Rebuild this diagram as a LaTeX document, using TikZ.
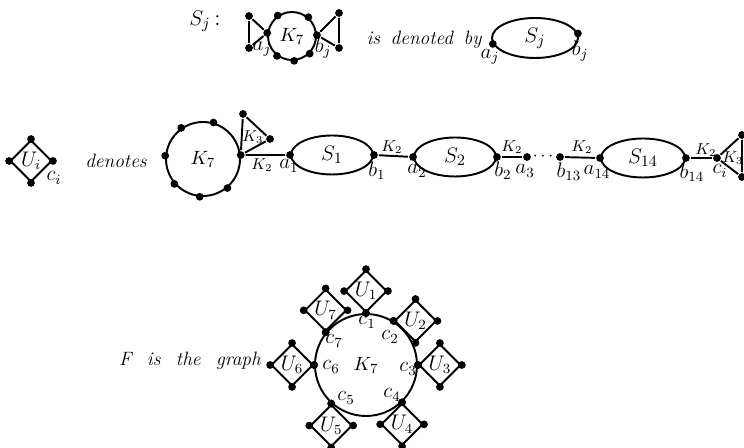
\documentclass[tikz,border=0pt]{standalone}
\usetikzlibrary{positioning, shapes.geometric}

\begin{document}
\begin{tikzpicture}[x=0.02cm, y=-0.02cm, line width=1.1pt,
  vtx/.style={circle, fill, inner sep=0pt, minimum size=0.155cm},
  sgraph/.style={ellipse, draw, minimum width=1.64cm, minimum height=0.78cm,
    inner sep=0pt, font=\fontsize{13}{15}\selectfont},
  ugraph/.style={diamond, draw, minimum size=0.84cm, inner sep=0pt,
    font=\fontsize{12}{14}\selectfont},
  kgraph/.style={circle, draw, inner sep=0pt, font=\fontsize{11}{13}\selectfont},
  lbl/.style={inner sep=0pt, font=\large},
  klbl/.style={inner sep=0pt, font=\small},
  words/.style={inner sep=0pt, font=\itshape},
]
  \useasboundingbox (0,0) rectangle (744,448);

  % top row: S_j and its short form
  \node[inner sep=0pt, font=\fontsize{13}{15}\selectfont] (sjname) at (205,21) {$S_j$\,:};
  \node[kgraph, minimum size=0.96cm] (k7top) at (292,36) {$K_7$};
  \node[vtx] (aj) at (k7top.173) {};
  \node[vtx] (bj) at (k7top.2) {};
  \foreach \ang in {125,49,-45,-85,-127}
    \node[vtx] (k7top-\ang) at (k7top.\ang) {};
  \node[vtx] (tl1) at (249,16) {};
  \node[vtx] (tl2) at (249,48) {};
  \node[vtx] (tr1) at (339,13) {};
  \node[vtx] (tr2) at (339,48) {};
  \draw (aj) -- (tl1) -- (tl2) -- (aj);
  \draw (bj) -- (tr1) -- (tr2) -- (bj);
  \node[lbl] (ajlbl) at (262,49) {$a_j$};
  \node[lbl] (bjlbl) at (323,48) {$b_j$};

  \node[words, font=\fontsize{11}{13}\selectfont\itshape] (denby) at (424,40)
    {is\hspace{0.55em}denoted\hspace{0.55em}by};
  \node[sgraph, minimum width=1.72cm, minimum height=0.8cm] (sj) at (535,38) {$S_j$};
  \node[vtx] (sja) at (sj.188) {};
  \node[vtx] (sjb) at (sj.6) {};
  \node[lbl] (sjalbl) at (490,57) {$a_j$};
  \node[lbl] (sjblbl) at (580,51) {$b_j$};

  % middle row: U_i
  \node[ugraph] (ui) at (31,161) {$U_i$};
  \foreach \a in {north,west,south,east}
    \node[vtx] (ui-\a) at (ui.\a) {};
  \node[lbl] (cilbl) at (54,178) {$c_i$};
  \node[words, font=\fontsize{11}{13}\selectfont\itshape] (denotes) at (116,161) {denotes};

  \node[kgraph, minimum size=1.48cm] (k7mid) at (203,159) {$K_7$};
  \node[vtx] (kr) at (k7mid.6) {};
  \foreach \ang in {74,125,175,221,265,310}
    \node[vtx] (k7mid-\ang) at (k7mid.\ang) {};
  \node[vtx] (k3top) at (243,114) {};
  \node[vtx] (k3rt) at (270,139) {};
  \draw (kr) -- (k3top) -- (k3rt) -- (kr);
  \node[klbl] (k3a) at (253,137) {$K_3$};

  \node[sgraph] (s1) at (332,155) {$S_1$};
  \node[vtx] (a1) at (s1.west) {};
  \node[vtx] (b1) at (s1.east) {};
  \node[sgraph] (s2) at (455,157) {$S_2$};
  \node[vtx] (a2) at (s2.west) {};
  \node[vtx] (b2) at (s2.east) {};
  \node[vtx] (a3) at (527,157) {};
  \node[inner sep=0pt] (gap) at (543,157) {$\cdots$};
  \node[vtx] (b13) at (560,157) {};
  \node[sgraph, minimum width=1.68cm] (s14) at (643,158) {$S_{14}$};
  \node[vtx] (a14) at (s14.west) {};
  \node[vtx] (b14) at (s14.east) {};
  \node[vtx] (ci) at (717,158) {};
  \node[vtx] (k3b1) at (742,135) {};
  \node[vtx] (k3b2) at (742,177) {};
  \draw (kr) -- (a1);
  \draw (b1) -- (a2);
  \draw (b2) -- (a3);
  \draw (b13) -- (a14);
  \draw (b14) -- (ci);
  \draw (ci) -- (k3b1) -- (k3b2) -- (ci);

  \node[klbl] (k2a) at (262,165) {$K_2$};
  \node[klbl] (k2b) at (392,147) {$K_2$};
  \node[klbl] (k2c) at (512,147) {$K_2$};
  \node[klbl] (k2d) at (582,147) {$K_2$};
  \node[klbl] (k2e) at (706,150) {$K_2$};
  \node[klbl] (k3b) at (733,158) {$K_3$};
  \node[lbl] (a1lbl) at (289,166) {$a_1$};
  \node[lbl] (b1lbl) at (377,171) {$b_1$};
  \node[lbl] (a2lbl) at (417,171) {$a_2$};
  \node[lbl] (b2lbl) at (503,171) {$b_2$};
  \node[lbl] (a3lbl) at (525,171) {$a_3$};
  \node[lbl] (b13lbl) at (569,172) {$b_{13}$};
  \node[lbl] (a14lbl) at (597,172) {$a_{14}$};
  \node[lbl] (b14lbl) at (692,173) {$b_{14}$};
  \node[lbl] (cilbl2) at (720,171) {$c_i$};

  % bottom: the graph F
  \node[words, font=\fontsize{11}{13}\selectfont\itshape] (fgraph) at (190,361)
    {F\hspace{0.8em}is\hspace{0.8em}the\hspace{0.8em}graph};
  \node[kgraph, minimum size=2.04cm] (k7big) at (366,365) {$K_7$};
  \foreach \k/\ang/\side in {1/90/south, 2/58/west, 3/0/west, 4/-46/north,
                             5/228/north, 6/180/east, 7/141/south} {
    \node[vtx] (c\k) at (k7big.\ang) {};
    \node[ugraph, anchor=\side] (u\k) at (c\k) {$U_\k$};
    \foreach \a in {north,west,south,east}
      \node[vtx] (u\k-\a) at (u\k.\a) {};
  }
  \node[lbl] (c1lbl) at (367,322) {$c_1$};
  \node[lbl] (c2lbl) at (390,337) {$c_2$};
  \node[lbl] (c3lbl) at (408,369) {$c_3$};
  \node[lbl] (c4lbl) at (392,395) {$c_4$};
  \node[lbl] (c5lbl) at (346,398) {$c_5$};
  \node[lbl] (c6lbl) at (331,367) {$c_6$};
  \node[lbl] (c7lbl) at (334,341) {$c_7$};
\end{tikzpicture}
\end{document}
